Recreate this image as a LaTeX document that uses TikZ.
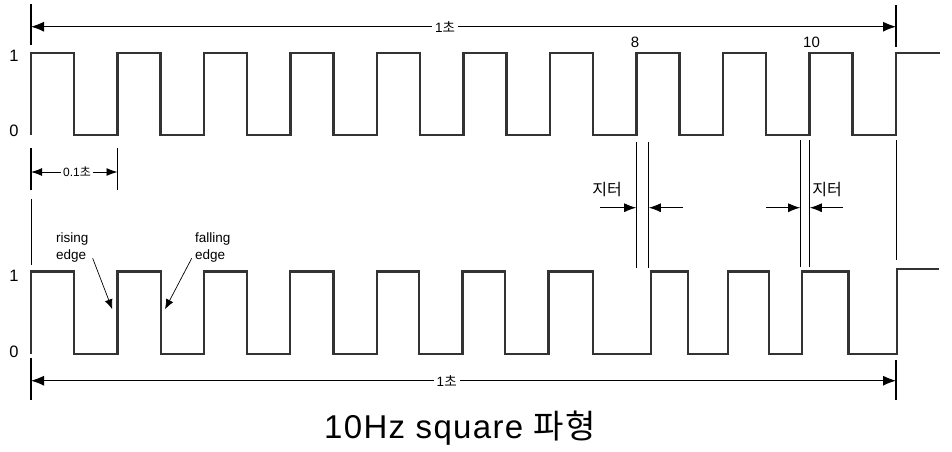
\documentclass[tikz,border=0pt]{standalone}
\usepackage{fontspec}
\setmainfont{Liberation Sans}
\newfontfamily\kr{Noto Sans CJK KR}
\newfontfamily\titlefont[LetterSpace=4]{Liberation Sans}
\newfontfamily\titlekr[LetterSpace=4]{Noto Sans CJK KR}
\usetikzlibrary{arrows.meta}
\begin{document}
\begin{tikzpicture}[x=1pt,y=-1pt,
  wave/.style={line width=2.4pt, draw=black!80, line join=miter},
  tickline/.style={line width=1.8pt},
  guide/.style={line width=0.9pt},
  dimarrow/.style={line width=0.9pt, {Latex[length=13pt,width=10pt]}-{Latex[length=13pt,width=10pt]}},
  smalldim/.style={line width=0.9pt, {Latex[length=11pt,width=8pt]}-{Latex[length=11pt,width=8pt]}},
  jitarrow/.style={line width=0.9pt, -{Latex[length=12pt,width=9pt]}},
  edgearrow/.style={line width=0.7pt, -{Latex[length=10pt,width=8pt]}},
  dimlabel/.style={fill=white, inner sep=3pt, font=\fontsize{13.5}{13.5}\selectfont},
  axislabel/.style={inner sep=0pt, font=\fontsize{16.5}{16.5}\selectfont},
  txt/.style={inner sep=0pt}
]
\useasboundingbox (0,0) rectangle (952,451);

% ---------- top waveform ----------
\draw[wave] (31,135)
  foreach \i in {0,...,9} { -- ({31+86.5*\i},53) -- ({74+86.5*\i},53) -- ({74+86.5*\i},135) -- ({117.5+86.5*\i},135) }
  -- (896,53) -- (940,53);

% ---------- bottom waveform (with jitter) ----------
\draw[wave] (31,354)--(31,271.5)--(74,271.5)--(74,354)--(117.3,354)--(117.3,271.5)--(160.7,271.5)--(160.7,354)
  --(204,354)--(204,271.5)--(247,271.5)--(247,354)--(290,354)--(290,271.5)--(333.3,271.5)--(333.3,354)
  --(376.7,354)--(376.7,271.5)--(419,271.5)--(419,354)--(462.3,354)--(462.3,271.5)--(505,271.5)--(505,354)
  --(548.3,354)--(548.3,271.5)--(592.7,271.5)--(592.7,354)--(650.7,354)--(650.7,271.5)--(687.7,271.5)--(687.7,354)
  --(727.7,354)--(727.7,271.5)--(769,271.5)--(769,354)--(801.7,354)--(801.7,271.5)--(848.3,271.5)--(848.3,354)
  --(896.7,354)--(896.7,269)--(939,269);

% ---------- axis labels ----------
\node[axislabel] (t1) at (14,56) {1};
\node[axislabel] (t0) at (14,131) {0};
\node[axislabel] (b1) at (14,276) {1};
\node[axislabel] (b0) at (14,352) {0};

% ---------- top 1 second dimension ----------
\coordinate (tlA) at (31,4);   \coordinate (tlB) at (31,45);
\coordinate (trA) at (896,5);  \coordinate (trB) at (896,47);
\draw[tickline] (tlA) -- (tlB);
\draw[tickline] (trA) -- (trB);
\coordinate (tdL) at (31,26.7); \coordinate (tdR) at (896,26.7);
\draw[dimarrow] (tdL) -- (tdR);
\node[dimlabel] (tsec) at (445,26.7) {1{\kr 초}};

% ---------- edge numbers ----------
\node[txt, font=\fontsize{15}{15}\selectfont] (n8) at (635,42) {8};
\node[txt, font=\fontsize{15}{15}\selectfont] (n10) at (811.5,42) {10};

% ---------- 0.1 second dimension ----------
\coordinate (sA1) at (31,148);    \coordinate (sA2) at (31,190);
\coordinate (sB1) at (117.5,148); \coordinate (sB2) at (117.5,190);
\draw[tickline] (sA1) -- (sA2);
\draw[tickline] (sB1) -- (sB2);
\coordinate (sdL) at (31,172); \coordinate (sdR) at (117.5,172);
\draw[smalldim] (sdL) -- (sdR);
\node[dimlabel, inner sep=2pt, font=\fontsize{12}{12}\selectfont] (tenth) at (77,172) {0.1{\kr 초}};
\coordinate (gA1) at (31,199); \coordinate (gA2) at (31,265);
\draw[guide] (gA1) -- (gA2);

% ---------- jitter guides ----------
\coordinate (j1a) at (636.7,141.7); \coordinate (j1b) at (636.7,268);
\coordinate (j2a) at (648.3,141.7); \coordinate (j2b) at (648.3,268);
\coordinate (j3a) at (800.7,140);   \coordinate (j3b) at (800.7,267);
\coordinate (j4a) at (809.3,140);   \coordinate (j4b) at (809.3,267);
\coordinate (j5a) at (896,140);     \coordinate (j5b) at (896,260);
\draw[guide] (j1a) -- (j1b);
\draw[guide] (j2a) -- (j2b);
\draw[guide] (j3a) -- (j3b);
\draw[guide] (j4a) -- (j4b);
\draw[guide] (j5a) -- (j5b);

\coordinate (ja1s) at (600,207.7); \coordinate (ja1e) at (636.2,207.7);
\coordinate (ja2s) at (683,207.7); \coordinate (ja2e) at (648.8,207.7);
\coordinate (ja3s) at (766,207.7); \coordinate (ja3e) at (800.2,207.7);
\coordinate (ja4s) at (843,207.7); \coordinate (ja4e) at (809.8,207.7);
\draw[jitarrow] (ja1s) -- (ja1e);
\draw[jitarrow] (ja2s) -- (ja2e);
\draw[jitarrow] (ja3s) -- (ja3e);
\draw[jitarrow] (ja4s) -- (ja4e);
\node[txt, font=\kr\fontsize{16}{16}\selectfont] (jit1) at (607,190) {지터};
\node[txt, font=\kr\fontsize{16}{16}\selectfont] (jit2) at (827,190) {지터};

% ---------- rising / falling edge ----------
\node[txt, anchor=west, align=left, font=\fontsize{13.5}{16.7}\selectfont] (rise) at (56,247.3) {rising\\edge};
\node[txt, anchor=west, align=left, font=\fontsize{13.5}{16.7}\selectfont] (fall) at (195,247.3) {falling\\edge};
\coordinate (rs) at (92.7,258.3);  \coordinate (re) at (112.3,309.3);
\coordinate (fs) at (191.7,258.3); \coordinate (fe) at (165,309.3);
\draw[edgearrow] (rs) -- (re);
\draw[edgearrow] (fs) -- (fe);

% ---------- bottom 1 second dimension ----------
\coordinate (blA) at (31,358);  \coordinate (blB) at (31,400);
\coordinate (brA) at (896,360); \coordinate (brB) at (896,400);
\draw[tickline] (blA) -- (blB);
\draw[tickline] (brA) -- (brB);
\coordinate (bdL) at (31,380.7); \coordinate (bdR) at (896,380.7);
\draw[dimarrow] (bdL) -- (bdR);
\node[dimlabel] (bsec) at (446.7,380.7) {1{\kr 초}};

% ---------- title ----------
\node[txt, font=\titlefont\fontsize{33}{33}\selectfont] (title) at (460,428) {10Hz square {\titlekr 파형}};
\end{tikzpicture}
\end{document}
